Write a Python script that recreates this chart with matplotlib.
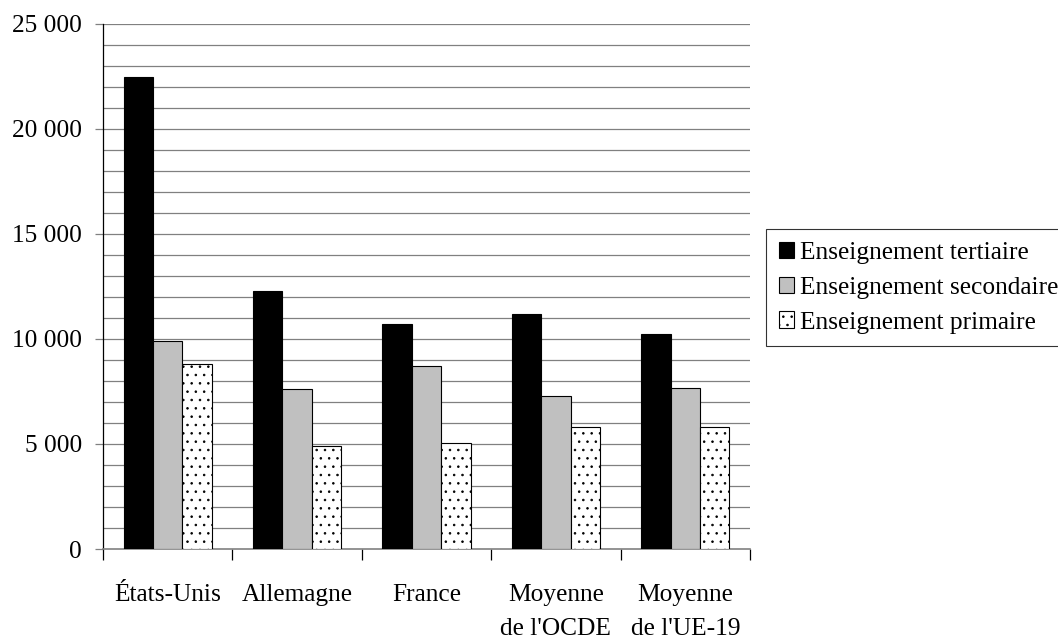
import matplotlib
matplotlib.use("Agg")
import matplotlib.pyplot as plt
from matplotlib.ticker import MultipleLocator, FuncFormatter, FixedLocator
import numpy as np

# Dépenses annuelles par élève selon le niveau d'enseignement
categories = ["États-Unis", "Allemagne", "France", "Moyenne\nde l'OCDE", "Moyenne\nde l'UE-19"]
tertiaire = [22480, 12300, 10700, 11180, 10220]
secondaire = [9920, 7600, 8730, 7270, 7665]
primaire = [8810, 4920, 5060, 5800, 5800]

series_labels = ["Enseignement tertiaire", "Enseignement secondaire", "Enseignement primaire"]

plt.rcParams["font.family"] = ["Liberation Serif", "DejaVu Serif"]
plt.rcParams["hatch.linewidth"] = 0.6
FS = 18.3

fig = plt.figure(figsize=(10.58, 6.35), dpi=100)
ax = fig.add_axes([103 / 1058, 1 - 549 / 635, (750 - 103) / 1058, (549 - 23.7) / 635])

x = np.arange(len(categories))
w = 0.227
ax.bar(x - w, tertiaire, w, color="black", edgecolor="black", linewidth=0.8,
       label=series_labels[0], zorder=3)
ax.bar(x, secondaire, w, color="#C0C0C0", edgecolor="black", linewidth=0.8,
       label=series_labels[1], zorder=3)
ax.bar(x + w, primaire, w, color="white", edgecolor="black", linewidth=0.8,
       hatch="..", label=series_labels[2], zorder=3)

ax.set_xlim(-0.5, len(categories) - 0.5)
ax.set_ylim(0, 25000)

# horizontal grid every 1 000
for v in range(1000, 25001, 1000):
    ax.axhline(v, color="#808080", linewidth=0.9, zorder=1)

ax.yaxis.set_major_locator(MultipleLocator(5000))
ax.yaxis.set_major_formatter(FuncFormatter(lambda v, p: f"{int(v):,}".replace(",", " ")))
ax.tick_params(axis="y", which="major", length=6, width=0.9, color="#808080",
               labelsize=FS, pad=9)

ax.xaxis.set_major_locator(FixedLocator(x))
ax.set_xticklabels(categories, linespacing=1.7)
ax.xaxis.set_minor_locator(FixedLocator(np.arange(-0.5, len(categories), 1.0)))
ax.tick_params(axis="x", which="major", length=0, labelsize=FS, pad=25)
ax.tick_params(axis="x", which="minor", length=8, width=0.9, color="black")

for side in ("top", "right"):
    ax.spines[side].set_visible(False)
ax.spines["left"].set_color("black")
ax.spines["left"].set_linewidth(0.9)
ax.spines["bottom"].set_color("#808080")
ax.spines["bottom"].set_linewidth(1.2)

leg = fig.legend(loc="upper left", bbox_to_anchor=(766 / 1058, 1 - 229 / 635),
                 fontsize=FS, frameon=True, fancybox=False, shadow=False,
                 handlelength=0.62, handleheight=0.62, handletextpad=0.2,
                 labelspacing=0.5, borderpad=0.5, borderaxespad=0)
leg.get_frame().set_edgecolor("black")
leg.get_frame().set_linewidth(0.8)

fig.savefig("out.png", dpi=100)
